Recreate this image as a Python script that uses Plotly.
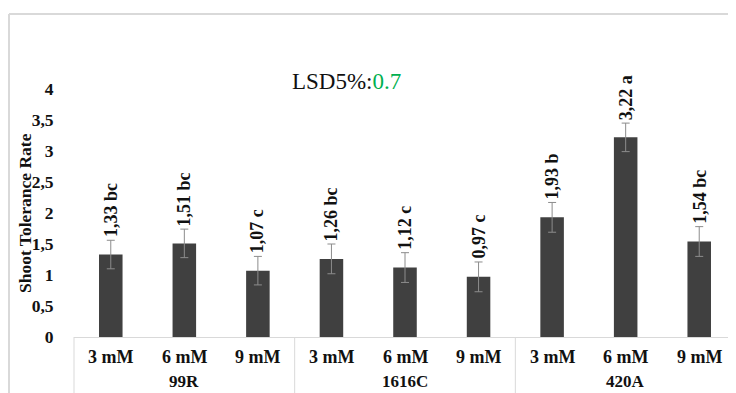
import plotly.graph_objects as go

groups = ["99R", "99R", "99R", "1616C", "1616C", "1616C", "420A", "420A", "420A"]
concentrations = ["3 mM", "6 mM", "9 mM"] * 3
values = [1.33, 1.51, 1.07, 1.26, 1.12, 0.97, 1.93, 3.22, 1.54]
errors = [0.23, 0.23, 0.23, 0.24, 0.24, 0.24, 0.24, 0.23, 0.24]
letters = ["bc", "bc", "c", "bc", "c", "c", "b", "a", "bc"]
group_names = ["99R", "1616C", "420A"]
y_ticks = [0, 0.5, 1, 1.5, 2, 2.5, 3, 3.5, 4]
y_tick_text = ["0", "0,5", "1", "1,5", "2", "2,5", "3", "3,5", "4"]
lsd_value = "0.7"

# page body has an 8px margin; lay out the figure so it lands on the window
OFF = 8
W, H = 736 - OFF, 393 - OFF
L, R, T, B = 74 - OFF, 0, 58 - OFF, 56
pw, ph = W - L - R, H - T - B

def px_x(x):
    return (x - OFF - L) / pw

def px_y(y):
    return (H - B - (y - OFF)) / ph

SERIF = "Liberation Serif, Times New Roman, serif"
INK = "#111111"

fig = go.Figure()
fig.add_trace(go.Bar(
    x=[groups, concentrations],
    y=values,
    width=0.32,
    marker=dict(color="#404040", line=dict(width=0)),
    error_y=dict(type="data", array=errors, visible=True,
                 color="#8c8c8c", thickness=1, width=4),
    hoverinfo="skip",
))

annotations = []
for g, c, v, e, l in zip(groups, concentrations, values, errors, letters):
    label = f"{v:.2f}".replace(".", ",") + " " + l
    annotations.append(dict(
        x=[g, c], y=v + e, xref="x", yref="y",
        text=label, textangle=-90, showarrow=False,
        xanchor="center", yanchor="bottom", yshift=1,
        font=dict(family=SERIF, size=18, color=INK, weight="bold"),
    ))
    # category tick label row
    annotations.append(dict(
        x=[g, c], y=px_y(357), xref="x", yref="paper",
        text=c, showarrow=False, xanchor="center", yanchor="middle",
        font=dict(family=SERIF, size=18, color=INK, weight="bold"),
    ))

for g in group_names:
    annotations.append(dict(
        x=[g, "6 mM"], y=px_y(393), xref="x", yref="paper",
        text=g, showarrow=False, xanchor="center", yanchor="bottom",
        font=dict(family=SERIF, size=17, color=INK, weight="bold"),
    ))

annotations.append(dict(
    x=px_x(25), y=px_y(213), xref="paper", yref="paper",
    text="Shoot Tolerance Rate", textangle=-90, showarrow=False,
    xanchor="center", yanchor="middle",
    font=dict(family=SERIF, size=17.5, color=INK, weight="bold"),
))
annotations.append(dict(
    x=px_x(346), y=px_y(81), xref="paper", yref="paper",
    text=f"LSD5%:<span style='color:#00b050'>{lsd_value}</span>",
    showarrow=False, xanchor="center", yanchor="middle",
    font=dict(family=SERIF, size=23, color=INK),
))

divider_pos = [0, 1 / 3, 2 / 3]
shapes = [
    dict(type="line", xref="paper", yref="paper",
         x0=px_x(9), x1=px_x(760), y0=px_y(14), y1=px_y(14),
         line=dict(color="#d9d9d9", width=2)),
    dict(type="line", xref="paper", yref="paper",
         x0=px_x(9), x1=px_x(9), y0=px_y(14), y1=px_y(420),
         line=dict(color="#d9d9d9", width=2)),
]
for d in divider_pos:
    shapes.append(dict(type="line", xref="paper", yref="paper",
                       x0=d, x1=d, y0=0, y1=px_y(420),
                       line=dict(color="#d9d9d9", width=1)))

fig.update_layout(
    width=W, height=H,
    margin=dict(l=L, r=R, t=T, b=B, pad=0),
    paper_bgcolor="white", plot_bgcolor="white",
    showlegend=False,
    annotations=annotations,
    shapes=shapes,
)
fig.update_xaxes(
    type="multicategory",
    showline=True, linecolor="#d9d9d9", linewidth=1,
    showgrid=False, zeroline=False,
    showticklabels=False, showdividers=False, ticks="",
)
fig.update_yaxes(
    range=[0, 4.5],
    tickvals=y_ticks, ticktext=y_tick_text,
    showline=False, showgrid=False, zeroline=False,
    ticks="outside", ticklen=16, tickcolor="rgba(0,0,0,0)",
    tickfont=dict(family=SERIF, size=17.5, color=INK, weight="bold"),
)

fig.write_html("out.html")
